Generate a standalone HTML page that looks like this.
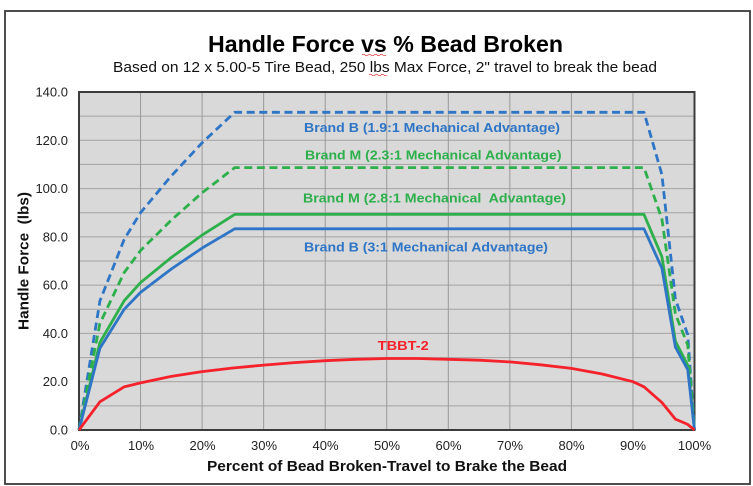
<!DOCTYPE html>
<html><head><meta charset="utf-8"><style>
html,body{margin:0;padding:0;background:#fff;}
svg{display:block;}
text{font-family:"Liberation Sans",Arial,sans-serif;}
</style></head><body>
<svg width="753" height="486" viewBox="0 0 753 486" xmlns="http://www.w3.org/2000/svg">
<rect x="0" y="0" width="753" height="486" fill="#fff"/>
<rect x="5" y="11" width="745" height="473" fill="#fff" stroke="#3a3a3a" stroke-width="1.8"/>
<text x="385.5" y="52" font-size="23" font-weight="bold" text-anchor="middle" textLength="355" lengthAdjust="spacingAndGlyphs" fill="#000">Handle Force vs % Bead Broken</text>
<path d="M362 55 q1.5 -1.5 3 0 t3 0 t3 0 t3 0 t3 0 t3 0 t3 0 t3 0" stroke="#e33" stroke-width="0.8" fill="none"/>
<text x="385" y="72" font-size="14.5" text-anchor="middle" textLength="544" lengthAdjust="spacingAndGlyphs" fill="#111">Based on 12 x 5.00-5 Tire Bead, 250 lbs Max Force, 2" travel to break the bead</text>
<path d="M369 75 q1.5 -1.5 3 0 t3 0 t3 0 t3 0 t3 0 t3 0" stroke="#e33" stroke-width="0.8" fill="none"/>
<rect x="79" y="92" width="615.5" height="338" fill="#d9d9d9"/>
<g stroke="#a3a3a3" stroke-width="1">
<line x1="79" x2="694.5" y1="405.9" y2="405.9"/><line x1="79" x2="694.5" y1="381.7" y2="381.7"/>
<line x1="79" x2="694.5" y1="357.6" y2="357.6"/><line x1="79" x2="694.5" y1="333.4" y2="333.4"/>
<line x1="79" x2="694.5" y1="309.3" y2="309.3"/><line x1="79" x2="694.5" y1="285.1" y2="285.1"/>
<line x1="79" x2="694.5" y1="261.0" y2="261.0"/><line x1="79" x2="694.5" y1="236.9" y2="236.9"/>
<line x1="79" x2="694.5" y1="212.7" y2="212.7"/><line x1="79" x2="694.5" y1="188.6" y2="188.6"/>
<line x1="79" x2="694.5" y1="164.4" y2="164.4"/><line x1="79" x2="694.5" y1="140.3" y2="140.3"/>
<line x1="79" x2="694.5" y1="116.1" y2="116.1"/>
</g>
<g stroke="#999" stroke-width="1">
<line y1="92" y2="430" x1="140.55" x2="140.55"/><line y1="92" y2="430" x1="202.1" x2="202.1"/>
<line y1="92" y2="430" x1="263.65" x2="263.65"/><line y1="92" y2="430" x1="325.2" x2="325.2"/>
<line y1="92" y2="430" x1="386.75" x2="386.75"/><line y1="92" y2="430" x1="448.3" x2="448.3"/>
<line y1="92" y2="430" x1="509.85" x2="509.85"/><line y1="92" y2="430" x1="571.4" x2="571.4"/>
<line y1="92" y2="430" x1="632.95" x2="632.95"/>
</g>
<rect x="79" y="92" width="615.5" height="338" fill="none" stroke="#3c3c3c" stroke-width="2"/>
<g fill="none" stroke-width="2.8" stroke-linejoin="round">
<polyline stroke="#2E75C6" stroke-dasharray="8 4.6" points="79,430 99.9,301.0 124.2,239.4 140.55,212.7 171.3,175.9 202.1,142.8 234.7,112.3 644.0,112.3 661.9,174.6 675.4,299.1 687.7,334.7 694.5,430"/>
<polyline stroke="#2DB04B" stroke-dasharray="8 4.6" points="79,430 99.9,323.5 124.2,272.5 140.55,250.5 171.3,220.1 202.1,192.8 234.7,167.6 644.0,167.6 661.9,219.0 675.4,314 687.7,345 694.5,430"/>
<polyline stroke="#2DB04B" points="79,430 99.9,342.5 124.2,300.7 140.55,282.6 171.3,257.5 202.1,235.1 234.7,214.4 644.0,214.4 661.9,256.7 675.4,341.2 687.7,365.3 694.5,430"/>
<polyline stroke="#2E75C6" points="79,430 99.9,348.3 124.2,309.3 140.55,292.4 171.3,269.0 202.1,248.1 234.7,228.8 644.0,228.8 661.9,268.2 675.4,347.1 687.7,369.6 694.5,430"/>
<polyline stroke="#F5222B" points="79,430 99.9,401.8 124.2,386.8 140.55,382.9 171.3,376.4 202.1,371.6 232.9,368.0 263.7,365.1 294.4,362.6 325.2,360.7 356.0,359.3 386.8,358.5 417.5,358.5 448.3,359.3 479.1,360.2 509.9,361.9 540.6,364.8 571.4,368.4 602.2,374.0 633.0,381.7 644.0,386.8 661.9,402.5 675.4,419.1 687.7,424.4 694.5,430"/>
</g>
<g font-size="13" font-weight="bold">
<text x="304" y="132" fill="#2E75C6" textLength="256" lengthAdjust="spacingAndGlyphs">Brand B (1.9:1 Mechanical Advantage)</text>
<text x="305" y="159.5" fill="#2DB04B" textLength="256.5" lengthAdjust="spacingAndGlyphs">Brand M (2.3:1 Mechanical Advantage)</text>
<text x="303" y="202.5" fill="#2DB04B" textLength="263" lengthAdjust="spacingAndGlyphs" xml:space="preserve">Brand M (2.8:1 Mechanical  Advantage)</text>
<text x="304" y="251.7" fill="#2E75C6" textLength="244" lengthAdjust="spacingAndGlyphs">Brand B (3:1 Mechanical Advantage)</text>
<text x="377.7" y="350" fill="#F5222B" textLength="51" lengthAdjust="spacingAndGlyphs">TBBT-2</text>
</g>
<g font-size="13" fill="#222" text-anchor="end">
<text x="68" y="434.5">0.0</text>
<text x="68" y="386.2">20.0</text>
<text x="68" y="337.9">40.0</text>
<text x="68" y="289.6">60.0</text>
<text x="68" y="241.4">80.0</text>
<text x="68" y="193.1">100.0</text>
<text x="68" y="144.8">120.0</text>
<text x="68" y="96.5">140.0</text>
</g>
<g font-size="13" fill="#222" text-anchor="middle">
<text x="80" y="450">0%</text>
<text x="141" y="450">10%</text>
<text x="202.5" y="450">20%</text>
<text x="264" y="450">30%</text>
<text x="325.5" y="450">40%</text>
<text x="387" y="450">50%</text>
<text x="448.5" y="450">60%</text>
<text x="510" y="450">70%</text>
<text x="571.5" y="450">80%</text>
<text x="633" y="450">90%</text>
<text x="694.5" y="450">100%</text>
</g>
<text x="387" y="471" font-size="15" font-weight="bold" text-anchor="middle" textLength="360" lengthAdjust="spacingAndGlyphs" fill="#111">Percent of Bead Broken-Travel to Brake the Bead</text>
<text transform="translate(28.5,261) rotate(-90)" x="0" y="0" font-size="15" font-weight="bold" text-anchor="middle" textLength="138" lengthAdjust="spacingAndGlyphs" fill="#111" xml:space="preserve">Handle Force  (lbs)</text>
</svg>
</body></html>
